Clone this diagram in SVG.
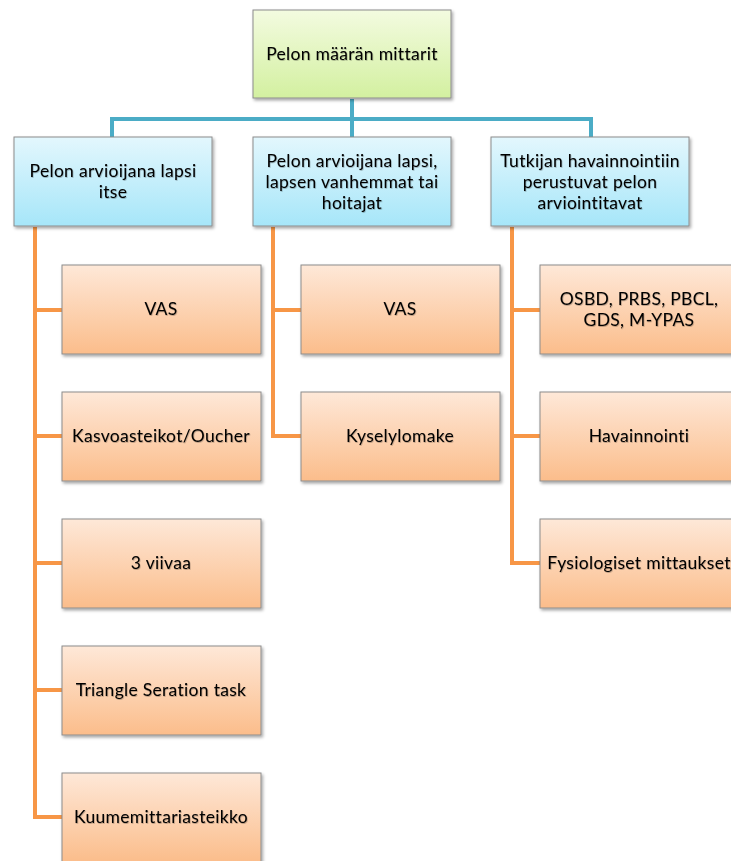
<svg xmlns="http://www.w3.org/2000/svg" width="731" height="861" viewBox="0 0 731 861">
<defs>
<linearGradient id="gGreen" x1="0" y1="0" x2="0" y2="1"><stop offset="0" stop-color="#f3fbe0"/><stop offset="1" stop-color="#d3f0a0"/></linearGradient>
<linearGradient id="gBlue" x1="0" y1="0" x2="0" y2="1"><stop offset="0" stop-color="#e3f7fd"/><stop offset="1" stop-color="#a6e6f9"/></linearGradient>
<linearGradient id="gOrange" x1="0" y1="0" x2="0" y2="1"><stop offset="0" stop-color="#fee8d8"/><stop offset="1" stop-color="#fbbd8b"/></linearGradient>
<filter id="sh" x="-10%" y="-10%" width="130%" height="130%"><feDropShadow dx="1.5" dy="2" stdDeviation="1.5" flood-color="#000" flood-opacity="0.35"/></filter>
<filter id="tsh" x="-5%" y="-20%" width="110%" height="150%"><feDropShadow dx="0.6" dy="0.8" stdDeviation="0.5" flood-color="#000" flood-opacity="0.3"/></filter>
</defs>
<style>
.box{stroke:#8c8c8c;stroke-width:1;filter:url(#sh)}
.g{fill:url(#gGreen)} .b{fill:url(#gBlue)} .o{fill:url(#gOrange)}
text{font-family:Lato,"Open Sans","Liberation Sans",sans-serif;font-size:17.5px;font-weight:400;letter-spacing:0.3px;fill:#000;text-anchor:middle;filter:url(#tsh)}
.bl{fill:none;stroke:#4bacc6;stroke-width:4}
.or{fill:none;stroke:#f79646;stroke-width:4}
</style>
<rect width="731" height="861" fill="#fff"/>
<g id="connectors">
<path class="bl" d="M352 99V119M112 137V119H591V137M352 119V137"/>
<path class="or" d="M35 227V817H62M35 310H62M35 436H62M35 563H62M35 690H62"/>
<path class="or" d="M273 227V436H301M273 310H301"/>
<path class="or" d="M512 227V563H540M512 310H540M512 436H540"/>
</g>
<g id="root"><rect class="box g" x="253" y="10" width="198" height="88"/><text x="352" y="60">Pelon määrän mittarit</text></g>
<g id="n1"><rect class="box b" x="14" y="137" width="198" height="89"/><text x="113" y="177">Pelon arvioijana lapsi</text><text x="113" y="198">itse</text></g>
<g id="n2"><rect class="box b" x="253" y="137" width="198" height="89"/><text x="352" y="167">Pelon arvioijana lapsi,</text><text x="352" y="188">lapsen vanhemmat tai</text><text x="352" y="209">hoitajat</text></g>
<g id="n3"><rect class="box b" x="491" y="137" width="198" height="89"/><text x="590" y="167">Tutkijan havainnointiin</text><text x="590" y="188">perustuvat pelon</text><text x="590" y="209">arviointitavat</text></g>
<g id="l1"><rect class="box o" x="62" y="265" width="199" height="89"/><text x="161" y="315">VAS</text></g>
<g id="l2"><rect class="box o" x="62" y="392" width="199" height="89"/><text x="161" y="442">Kasvoasteikot/Oucher</text></g>
<g id="l3"><rect class="box o" x="62" y="519" width="199" height="89"/><text x="161" y="569">3 viivaa</text></g>
<g id="l4"><rect class="box o" x="62" y="646" width="199" height="89"/><text x="161" y="696">Triangle Seration task</text></g>
<g id="l5"><rect class="box o" x="62" y="773" width="199" height="89"/><text x="161" y="823">Kuumemittariasteikko</text></g>
<g id="m1"><rect class="box o" x="301" y="265" width="199" height="89"/><text x="400" y="315">VAS</text></g>
<g id="m2"><rect class="box o" x="301" y="392" width="199" height="89"/><text x="400" y="442">Kyselylomake</text></g>
<g id="r1"><rect class="box o" x="540" y="265" width="199" height="89"/><text x="639" y="305">OSBD, PRBS, PBCL,</text><text x="639" y="326">GDS, M-YPAS</text></g>
<g id="r2"><rect class="box o" x="540" y="392" width="199" height="89"/><text x="639" y="442">Havainnointi</text></g>
<g id="r3"><rect class="box o" x="540" y="519" width="199" height="89"/><text x="639" y="569">Fysiologiset mittaukset</text></g>
</svg>
